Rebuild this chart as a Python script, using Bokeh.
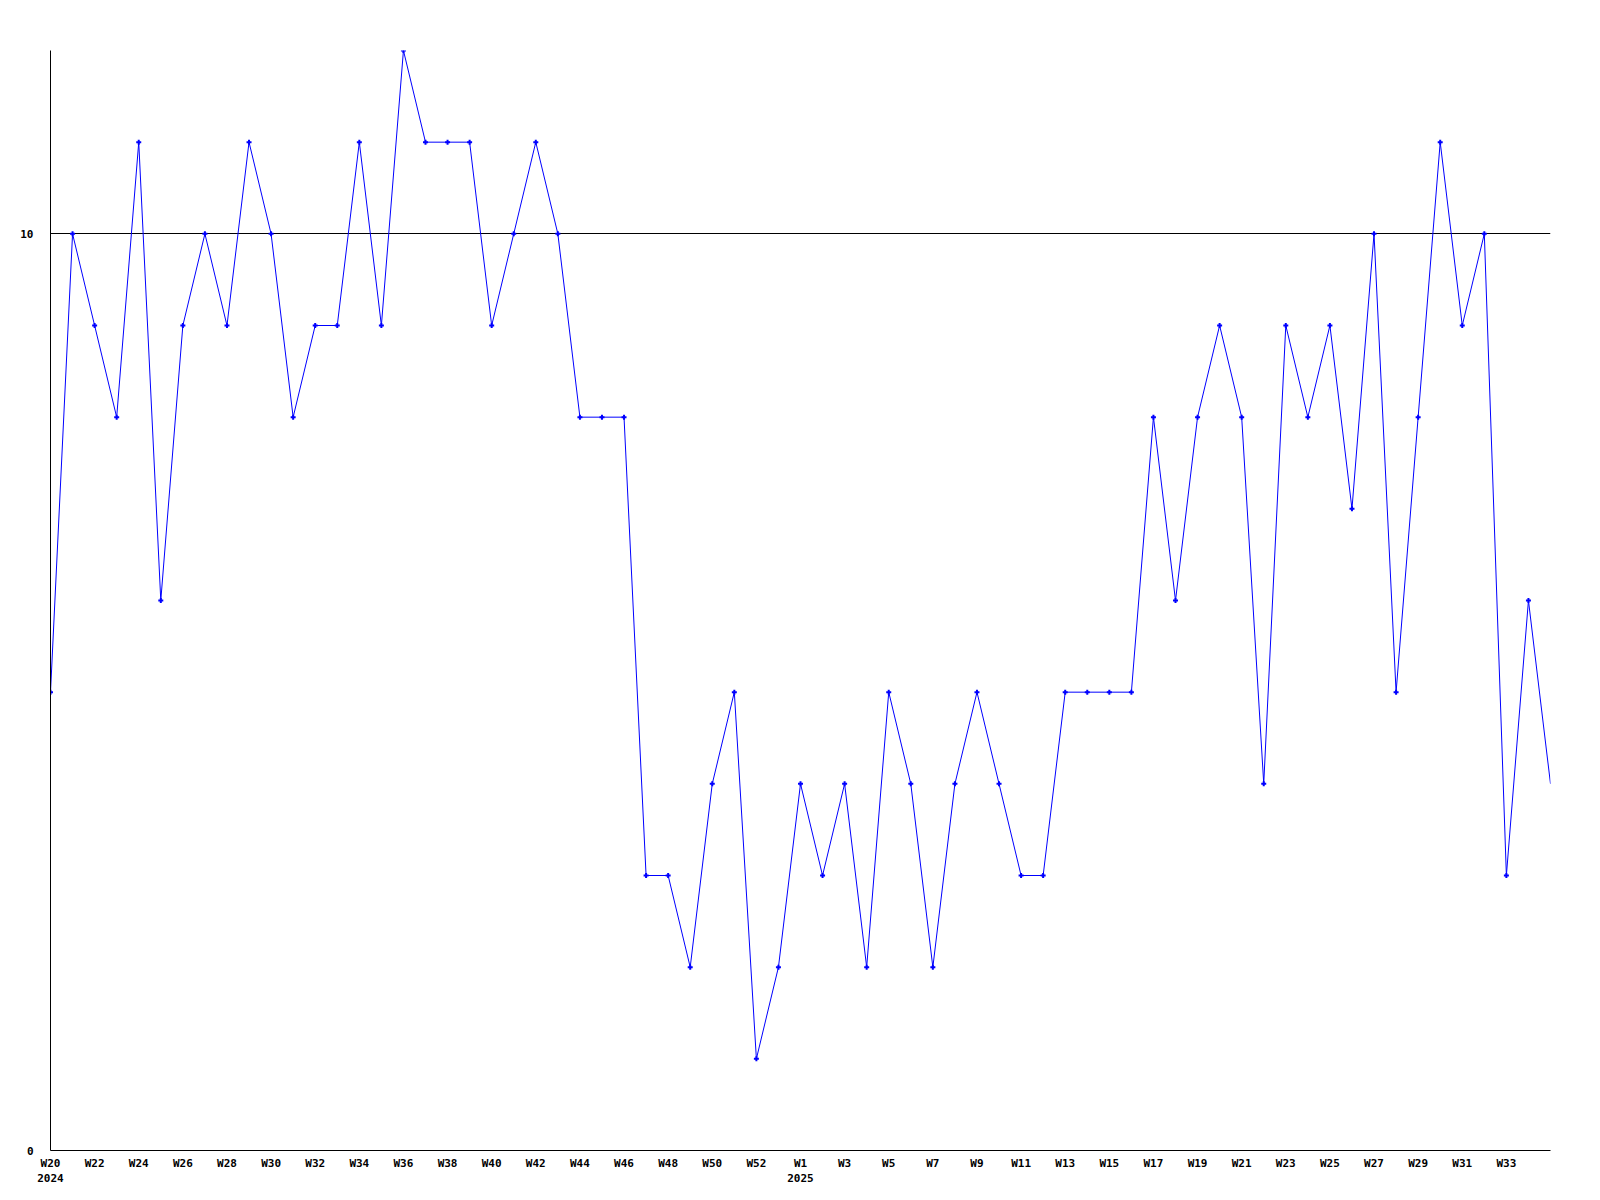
from bokeh.plotting import figure
from bokeh.models import Range1d, FixedTicker
from bokeh.embed import file_html
from bokeh.resources import INLINE

weeks = [f"W{w}" for w in range(20, 54)] + [f"W{w}" for w in range(1, 36)]
years = {0: "2024", 34: "2025"}
values = [5, 10, 9, 8, 11, 6, 9, 10, 9, 11,
          10, 8, 9, 9, 11, 9, 12, 11, 11, 11,
          9, 10, 11, 10, 8, 8, 8, 3, 3, 2,
          4, 5, 1, 2, 4, 3, 4, 2, 5, 4,
          2, 4, 5, 4, 3, 3, 5, 5, 5, 5,
          8, 6, 8, 9, 8, 4, 9, 8, 9, 7,
          10, 5, 8, 11, 9, 10, 3, 6, 4]
y_ticks = [0, 10]

xs = list(range(len(values)))

p = figure(width=1588, height=1193, output_backend="svg", toolbar_location=None,
           x_range=Range1d(0, len(values) - 1), y_range=Range1d(0, 12),
           min_border_left=50, min_border_right=38, min_border_top=50, min_border_bottom=43)
p.outline_line_color = None
p.background_fill_color = "white"
p.border_fill_color = "white"

p.line(xs, values, line_color="#0000ff", line_width=1)
p.scatter(xs[:-1], values[:-1], marker="cross", size=5, line_color="#0000ff", line_width=2)

font = "DejaVu Sans Mono"
tick_idx = list(range(0, len(values) - 1, 2))
p.xaxis.ticker = FixedTicker(ticks=tick_idx)
p.xaxis.major_label_overrides = {i: (weeks[i] + ("\n" + years[i] if i in years else "")) for i in tick_idx}
p.yaxis.ticker = FixedTicker(ticks=y_ticks)
p.yaxis.major_label_overrides = {v: str(v) for v in y_ticks}

for ax in (p.xaxis[0], p.yaxis[0]):
    ax.axis_line_color = "black"
    ax.axis_line_width = 1
    ax.major_tick_line_color = None
    ax.minor_tick_line_color = None
    ax.major_label_text_font = font
    ax.major_label_text_font_style = "bold"
    ax.major_label_text_font_size = "11px"
    ax.major_label_text_color = "black"
p.xaxis.major_label_standoff = 0
p.yaxis.major_label_standoff = 11

p.xgrid.grid_line_color = None
p.ygrid.ticker = FixedTicker(ticks=[10])
p.ygrid.grid_line_color = "black"
p.ygrid.grid_line_width = 1

open("out.html", "w").write(file_html(p, INLINE))
